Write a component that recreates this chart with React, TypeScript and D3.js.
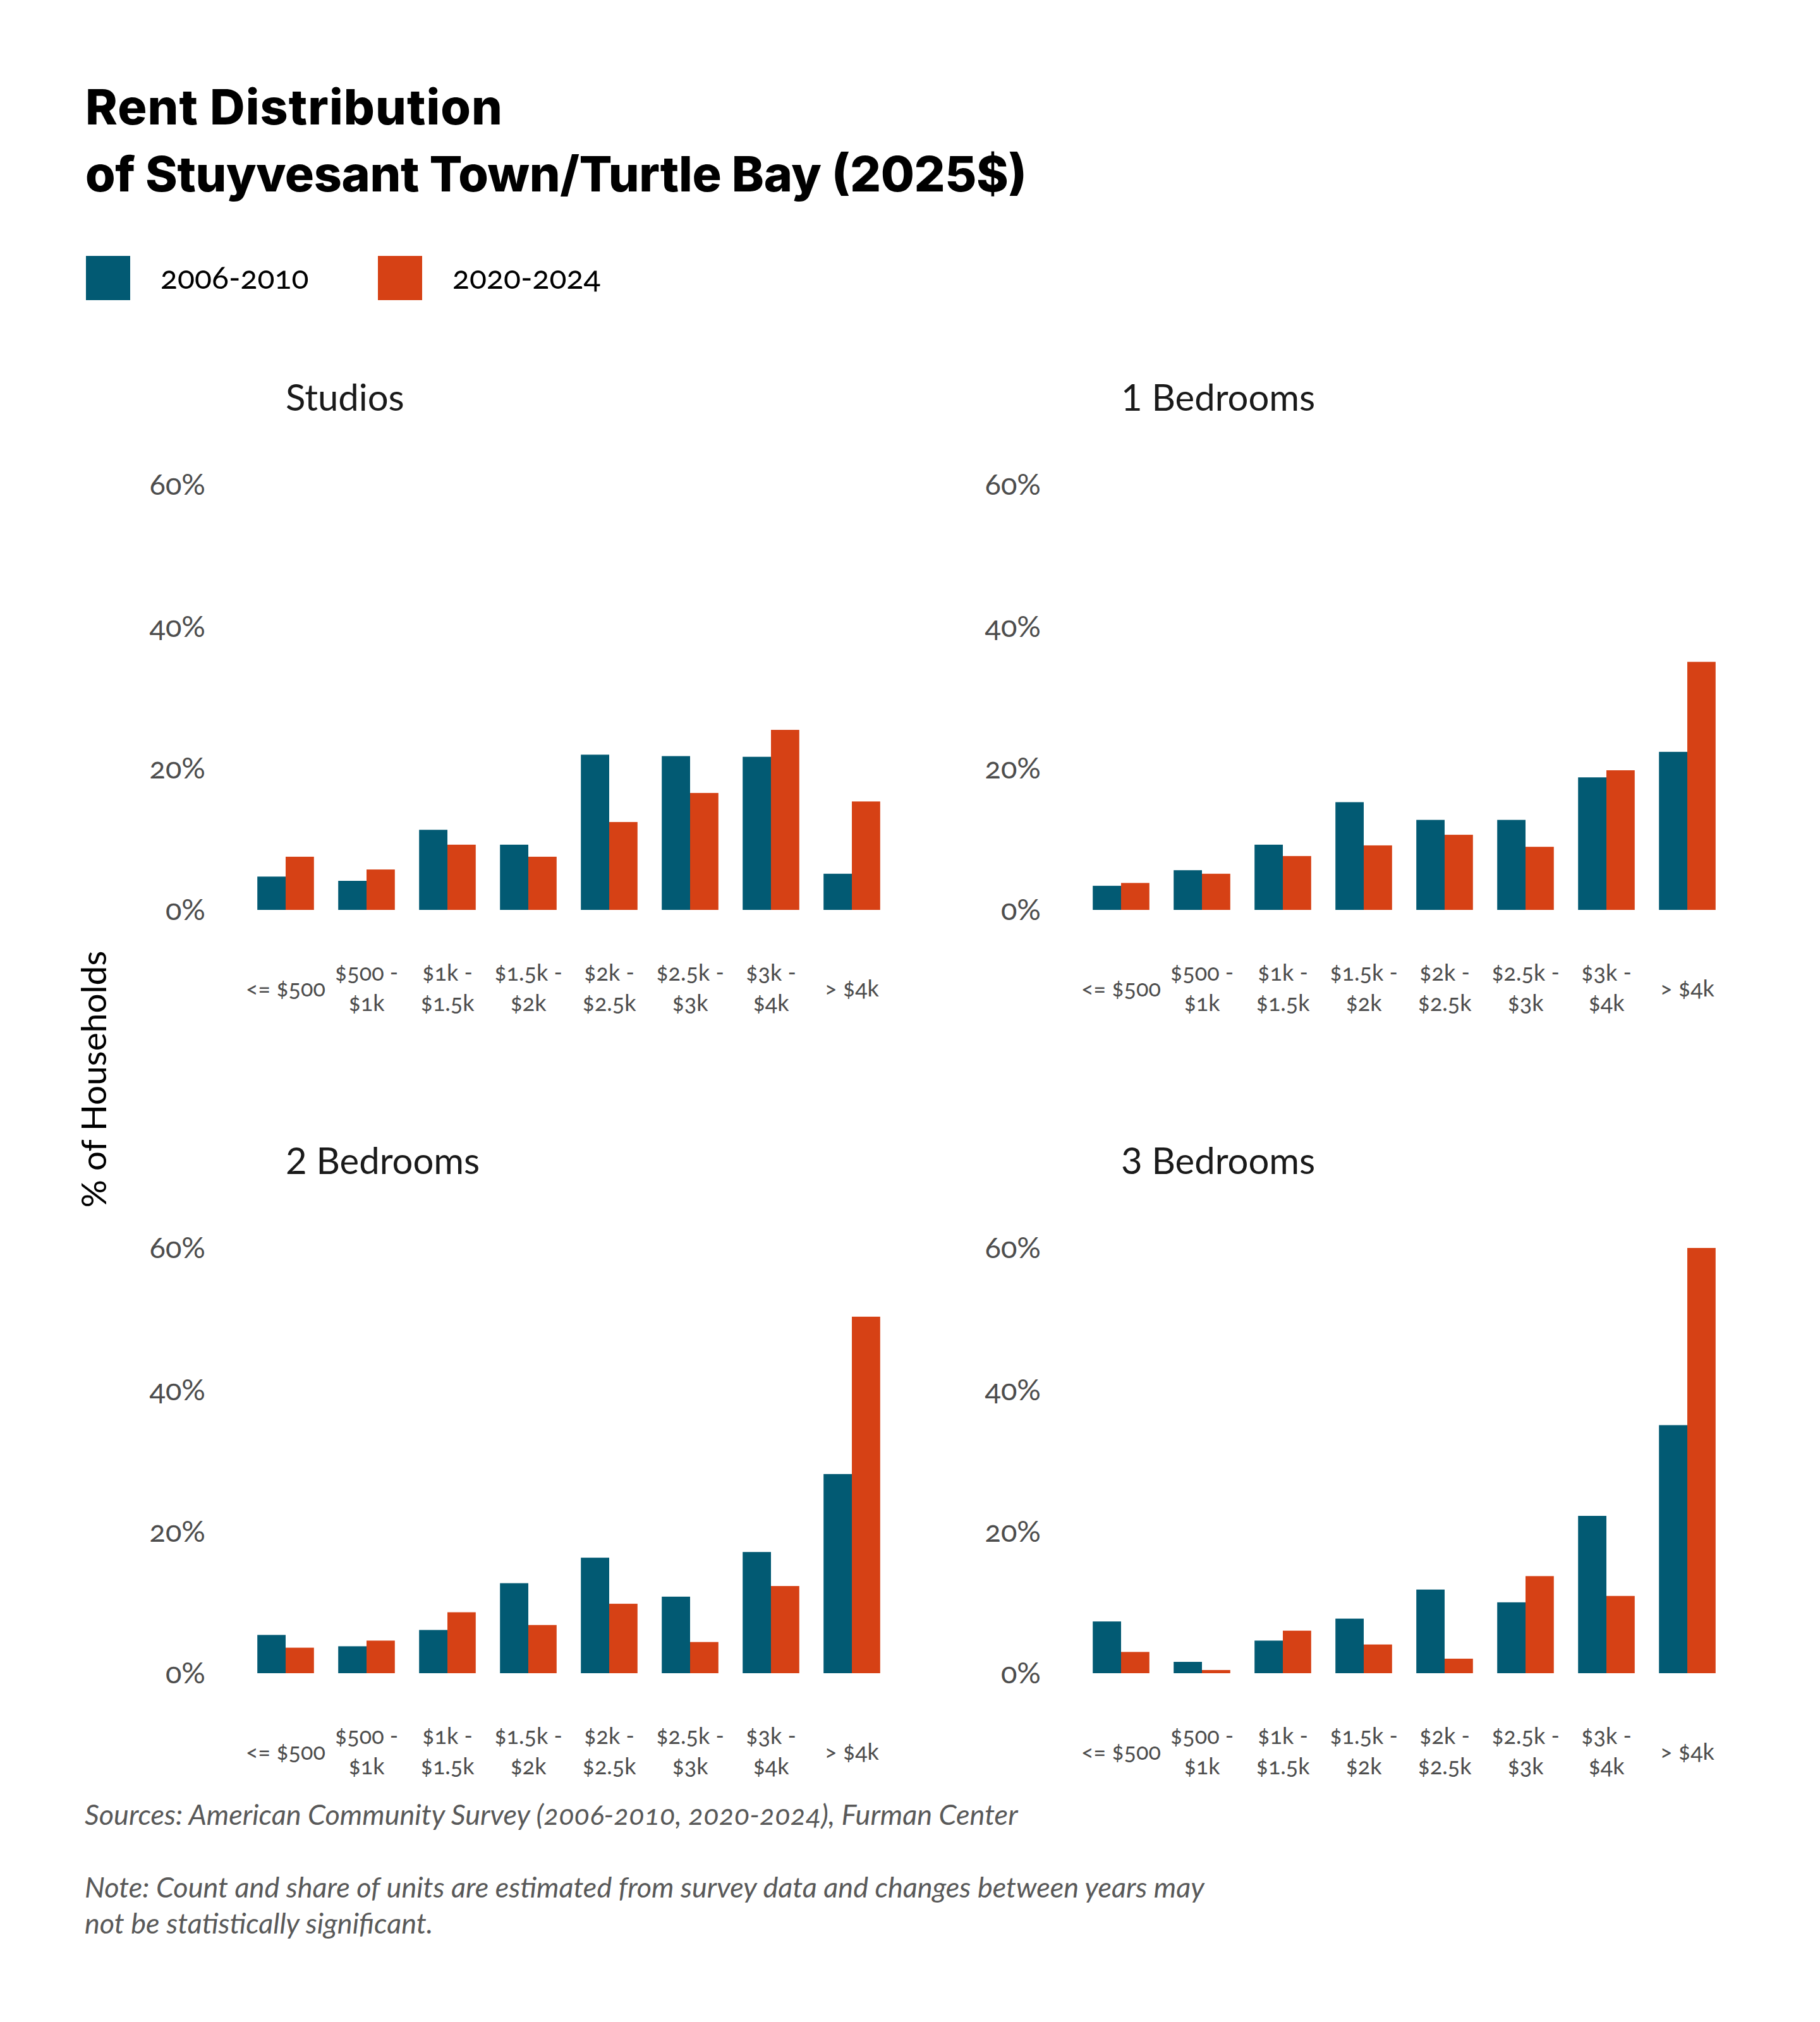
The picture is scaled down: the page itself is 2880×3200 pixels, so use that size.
import * as React from 'react';
import * as d3 from 'd3';

// rent brackets (x categories), split in two lines where the chart wraps them
const categories = ['<= $500', '$500 - $1k', '$1k - $1.5k', '$1.5k - $2k', '$2k - $2.5k', '$2.5k - $3k', '$3k - $4k', '> $4k'];
const categoryLines = [
  ['<= $500'], ['$500 -', '$1k'], ['$1k -', '$1.5k'], ['$1.5k -', '$2k'],
  ['$2k -', '$2.5k'], ['$2.5k -', '$3k'], ['$3k -', '$4k'], ['> $4k'],
];

const seriesNames = ['2006-2010', '2020-2024'];
const yTicks = [0, 20, 40, 60];
const panelTitles = ['Studios', '1 Bedrooms', '2 Bedrooms', '3 Bedrooms'];

// % of households
const studios0610 = [4.7, 4.1, 11.3, 9.2, 21.9, 21.7, 21.6, 5.1];
const studios2024 = [7.5, 5.7, 9.2, 7.5, 12.4, 16.5, 25.4, 15.3];
const oneBed0610 = [3.4, 5.6, 9.2, 15.2, 12.7, 12.7, 18.7, 22.3];
const oneBed2024 = [3.8, 5.1, 7.6, 9.1, 10.6, 8.9, 19.7, 35.0];
const twoBed0610 = [5.4, 3.8, 6.1, 12.7, 16.3, 10.8, 17.1, 28.1];
const twoBed2024 = [3.6, 4.6, 8.6, 6.8, 9.8, 4.4, 12.3, 50.3];
const threeBed0610 = [7.3, 1.6, 4.6, 7.7, 11.8, 10.0, 22.2, 35.0];
const threeBed2024 = [3.0, 0.45, 6.0, 4.05, 2.05, 13.7, 10.9, 60.0];

const panelData = [
  [studios0610, studios2024],
  [oneBed0610, oneBed2024],
  [twoBed0610, twoBed2024],
  [threeBed0610, threeBed2024],
];

const COLORS = ['#025a73', '#d64115'];
const W = 2880;
const H = 3200;
const colStart = [388, 1710];
const rowBase = [1440, 2648];
const PLOT_W = 1024;
const PLOT_H = 673;

const FONT = 'Lato, "Open Sans", sans-serif';
const OLD = { fontVariantNumeric: 'oldstyle-nums' } as React.CSSProperties;

const Panel: React.FC<{ idx: number }> = ({ idx }) => {
  const x0 = colStart[idx % 2];
  const y0 = rowBase[Math.floor(idx / 2)];
  const x = d3.scaleBand<string>().domain(categories).range([x0, x0 + PLOT_W]).paddingInner(0.3).paddingOuter(0.15);
  const xSub = d3.scaleBand<string>().domain(seriesNames).range([0, x.bandwidth()]);
  const y = d3.scaleLinear().domain([0, 60]).range([y0, y0 - PLOT_H]);
  const series = panelData[idx];

  return (
    <g>
      <text x={x0 + 64} y={y0 - 790} fontFamily={FONT} fontSize={58} fill="#1a1a1a">
        {panelTitles[idx]}
      </text>
      {yTicks.map(t => (
        <text key={t} x={x0 - 63} y={y(t)} dy="0.35em" textAnchor="end"
          fontFamily={FONT} fontSize={47} fill="#4d4d4d" style={OLD}>
          {t}%
        </text>
      ))}
      {series.map((vals, s) =>
        vals.map((v, i) => (
          <rect key={`${s}-${i}`}
            x={(x(categories[i]) ?? 0) + (xSub(seriesNames[s]) ?? 0)}
            y={y(v)}
            width={xSub.bandwidth()}
            height={y(0) - y(v)}
            fill={COLORS[s]} />
        ))
      )}
      {categoryLines.map((lines, i) => {
        const cx = (x(categories[i]) ?? 0) + x.bandwidth() / 2;
        return (
          <text key={i} textAnchor="middle" fontFamily={FONT} fontSize={36} fill="#4d4d4d" style={OLD}>
            {lines.length === 1
              ? <tspan x={cx} y={y0 + 137}>{lines[0]}</tspan>
              : lines.map((l, j) => <tspan key={j} x={cx} y={y0 + 112 + j * 48}>{l}</tspan>)}
          </text>
        );
      })}
    </g>
  );
};

const App: React.FC = () => {
  const legendX = [136, 598];
  return (
    <svg width={W} height={H} viewBox={`0 0 ${W} ${H}`}
      style={{ position: 'absolute', left: 0, top: 0, display: 'block', background: '#fff' }}>
      <rect width={W} height={H} fill="#fff" />
      <g fontFamily='Inter, Lato, sans-serif' fontWeight={800} fontSize={77} fill="#000">
        <text x={135} y={197} textLength={660} lengthAdjust="spacing">Rent Distribution</text>
        <text x={135} y={303} textLength={1490} lengthAdjust="spacing">of Stuyvesant Town/Turtle Bay (2025$)</text>
      </g>
      {seriesNames.map((name, s) => (
        <g key={name}>
          <rect x={legendX[s]} y={405} width={70} height={70} fill={COLORS[s]} />
          <text x={legendX[s] + 118} y={457} fontFamily={FONT} fontSize={50} fill="#000" style={OLD}>{name}</text>
        </g>
      ))}
      {panelTitles.map((_, i) => <Panel key={i} idx={i} />)}
      <text transform="translate(168,1708) rotate(-90)" textAnchor="middle"
        fontFamily={FONT} fontSize={55} fill="#000">% of Households</text>
      <g fontFamily={FONT} fontStyle="italic" fontSize={45} fill="#595959" style={OLD}>
        <text x={134} y={2888}>Sources: American Community Survey (2006-2010, 2020-2024), Furman Center</text>
        <text x={134} y={3003}>Note: Count and share of units are estimated from survey data and changes between years may</text>
        <text x={134} y={3060}>not be statistically significant.</text>
      </g>
    </svg>
  );
};

export default App;
